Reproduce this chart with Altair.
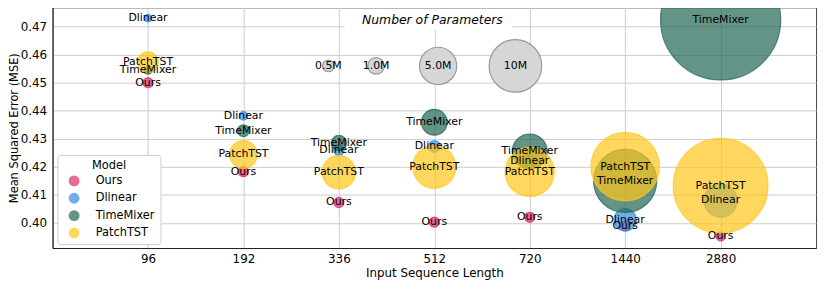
import json
import altair as alt
import pandas as pd

# ---------------- data ----------------
lengths = ["96", "192", "336", "512", "720", "1440", "2880"]
models = ["Ours", "Dlinear", "TimeMixer", "PatchTST"]
colors = ["#DB2969", "#308DE3", "#226655", "#FFC61A"]

ours_mse = [0.4500, 0.4183, 0.4073, 0.4003, 0.4020, 0.3990, 0.3952]
dlinear_mse = [0.4730, 0.4382, 0.4259, 0.4273, 0.4220, 0.4011, 0.4080]
timemixer_mse = [0.4545, 0.4329, 0.4285, 0.4359, 0.4255, 0.4150, 0.4724]
patchtst_mse = [0.4573, 0.4244, 0.4181, 0.4200, 0.4182, 0.4201, 0.4133]

# number of parameters (millions)
ours_params = [0.37, 0.37, 0.37, 0.37, 0.37, 0.37, 0.30]
dlinear_params = [0.20, 0.26, 0.40, 0.50, 0.65, 1.80, 4.00]
timemixer_params = [0.25, 0.50, 0.84, 2.40, 4.40, 14.4, 52.1]
patchtst_params = [1.52, 2.77, 4.00, 6.67, 8.70, 16.9, 32.4]

ref_params = [0.5, 1.0, 5.0, 10.0]
ref_labels = ["0.5M", "1.0M", "5.0M", "10M"]
ref_x = [1.89, 2.39, 3.04, 3.85]
ref_y = [0.456, 0.456, 0.456, 0.456]

y_ticks = [0.40, 0.41, 0.42, 0.43, 0.44, 0.45, 0.46, 0.47]

title_text = ["Number of Parameters"]
title_x = [2.98]
title_y = [0.4724]
title_box_x = [2.06]
title_box_x2 = [3.82]
title_box_y = [0.4688]
title_box_y2 = [0.4757]

# ---------------- tables ----------------
rows = []
for m, mses, pars in zip(models,
                         [ours_mse, dlinear_mse, timemixer_mse, patchtst_mse],
                         [ours_params, dlinear_params, timemixer_params, patchtst_params]):
    for i, (L, v, p) in enumerate(zip(lengths, mses, pars)):
        rows.append(dict(model=m, idx=i, length=L, mse=v, params=p))
df = pd.DataFrame(rows)

ref_df = pd.DataFrame(dict(idx=ref_x, mse=ref_y, params=ref_params, label=ref_labels))
title_df = pd.DataFrame(dict(idx=title_x, mse=title_y, label=title_text))
box_df = pd.DataFrame(dict(idx=title_box_x, idx2=title_box_x2,
                           mse=title_box_y, mse2=title_box_y2))

FONT = "DejaVu Sans"
label_expr = json.dumps(lengths) + "[datum.value]"

x_scale = alt.Scale(domain=[-1, 7], nice=False, zero=False)
y_scale = alt.Scale(domain=[0.39107, 0.47685], nice=False, zero=False)
size_scale = alt.Scale(type="linear", domain=[0, 60], range=[0, 16962], zero=True)

x_enc = alt.X("idx:Q", scale=x_scale,
              axis=alt.Axis(values=list(range(7)), labelExpr=label_expr,
                            labelOverlap=False, title="Input Sequence Length"))
y_enc = alt.Y("mse:Q", scale=y_scale,
              axis=alt.Axis(values=y_ticks, format=".2f", labelOverlap=False,
                            labelFlush=False, title="Mean Squared Error (MSE)"))

base = alt.Chart(df)

box = alt.Chart(box_df).mark_rect(fill="white").encode(
    x=x_enc, x2="idx2:Q",
    y=y_enc, y2="mse2:Q",
)

ref_circles = alt.Chart(ref_df).mark_circle(
    fill="#d6d6d6", stroke="#9a9a9a", strokeWidth=1.2, fillOpacity=1, opacity=1
).encode(
    x=x_enc, y=y_enc,
    size=alt.Size("params:Q", scale=size_scale, legend=None),
)

ref_text = alt.Chart(ref_df).mark_text(font=FONT, fontSize=11, color="black",
                                       baseline="middle").encode(
    x=x_enc, y=y_enc, text="label:N"
)

title_mark = alt.Chart(title_df).mark_text(font=FONT, fontSize=12.5, fontStyle="italic",
                                           color="black", baseline="middle").encode(
    x=x_enc, y=y_enc, text="label:N"
)

circles = base.mark_circle(clip=True, fillOpacity=0.7, strokeOpacity=0.75,
                           strokeWidth=1.2).encode(
    x=x_enc, y=y_enc,
    size=alt.Size("params:Q", scale=size_scale, legend=None),
    color=alt.Color("model:N", scale=alt.Scale(domain=models, range=colors),
                    legend=alt.Legend(title="Model", orient="none", legendX=5, legendY=149)),
    stroke=alt.Stroke("model:N", scale=alt.Scale(domain=models, range=colors), legend=None),
    order=alt.Order("ord:Q"),
).transform_calculate(
    ord="indexof(" + json.dumps(models) + ", datum.model)"
)

labels = base.mark_text(font=FONT, fontSize=11, color="black", baseline="middle").encode(
    x=x_enc, y=y_enc, text="model:N"
)

chart = alt.layer(box, ref_circles, ref_text, title_mark, circles, labels).properties(
    width=771, height=243,
    autosize=alt.AutoSizeParams(type="none"),
    padding={"left": 45, "top": -2, "right": 6, "bottom": 40},
).configure_view(
    stroke="#444444", strokeWidth=1
).configure_axis(
    labelFont=FONT, titleFont=FONT, labelFontSize=12, titleFontSize=12,
    titleFontWeight="normal", labelColor="black", titleColor="black",
    grid=True, gridColor="#cccccc", gridWidth=1,
    ticks=False, domainColor="#222222", domainWidth=1,
).configure_axisX(
    labelPadding=6, titlePadding=3,
).configure_axisY(
    labelPadding=6, titlePadding=1, titleFontSize=11.5,
).configure_legend(
    titleFont=FONT, labelFont=FONT, titleFontSize=11.5, labelFontSize=11.5,
    titleFontWeight="normal", titleColor="black", labelColor="black",
    titleAnchor="middle", padding=5, titlePadding=4,
    symbolType="circle", symbolSize=120, symbolOpacity=0.7, symbolStrokeWidth=0,
    symbolOffset=6, labelOffset=16, rowPadding=4.5,
    fillColor="white", strokeColor="#cccccc", cornerRadius=3,
)

chart.save("out.html", embed_options={"renderer": "svg", "actions": False})
